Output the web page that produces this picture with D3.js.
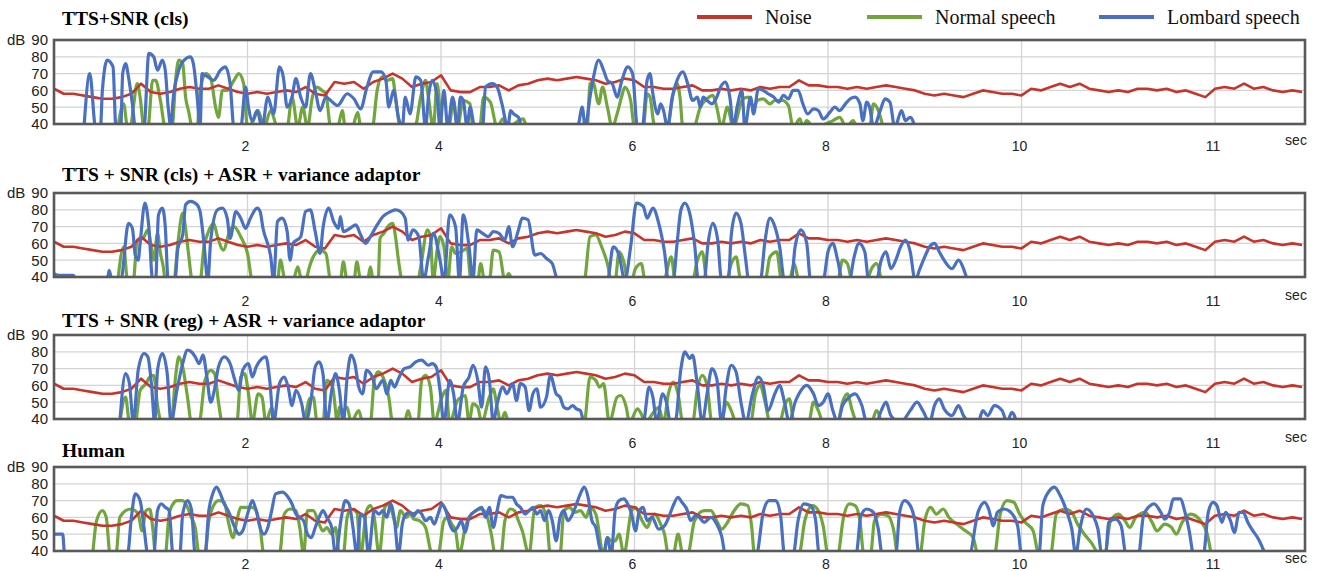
<!DOCTYPE html>
<html>
<head>
<meta charset="utf-8">
<script src="https://cdn.jsdelivr.net/npm/d3@7"></script>
<style>
body { margin: 0; background: #fff; }
</style>
</head>
<body>
<svg id="chart" width="1317" height="571"></svg>
<script>
// ---- data ----
var seriesNames = ["Noise", "Normal speech", "Lombard speech"];
var panelTitles = ["TTS+SNR (cls)", "TTS + SNR (cls) + ASR + variance adaptor",
    "TTS + SNR (reg) + ASR + variance adaptor", "Human"];
var xTickValues = [2, 4, 6, 8, 10, 12];
var xTickLabels = ["2", "4", "6", "8", "10", "11"];
var yTickValues = [40, 50, 60, 70, 80, 90];

// noise level (dB), one value every 0.1 sec
var noiseStep = 0.1;
var noiseValues = [61,58,58,57,56,55,55,56,58,64, 59,58,59,61,62,61,61,63,61,59,
    58,59,58,59,60,59,62,58,57,65, 64,65,61,65,67,70,67,62,64,65,
    69,60,59,59,62,62,63,60,63,64, 66,67,66,67,68,67,66,64,65,67,
    66,62,62,61,61,62,63,60,60,61, 60,61,60,62,61,62,62,66,63,63,
    62,62,61,62,61,62,63,62,61,60, 58,57,58,57,56,58,60,59,58,58,
    57,61,60,62,64,62,64,61,60,59, 60,59,61,61,60,61,59,60,58,56,
    61,62,61,64,61,62,60,59,60,59];

// speech levels: [sec, dB]; values under 40 fall below the frame
var normal1 = [[0.66,38],[0.72,52],[0.76,38],[0.79,38],[0.82,50],[0.86,64],[0.89,56],[0.93,38],[0.97,38],[1.02,66],[1.05,66],[1.10,54],[1.15,38],[1.22,38],[1.26,68],[1.29,78],[1.33,76],[1.36,56],[1.39,48],[1.43,38],[1.48,38],[1.51,60],[1.57,70],[1.62,67],[1.67,50],[1.70,44],[1.74,60],[1.79,60],[1.86,66],[1.91,70],[1.96,64],[2.00,38],[2.06,42],[2.11,48],[2.17,38],[2.24,48],[2.31,38],[2.41,38],[2.46,56],[2.52,38],[2.57,50],[2.62,38],[2.67,56],[2.72,62],[2.77,60],[2.81,58],[2.86,38],[2.93,38],[2.98,48],[3.01,38],[3.08,38],[3.14,47],[3.17,38],[3.29,38],[3.34,60],[3.39,68],[3.44,66],[3.50,67],[3.53,56],[3.58,38],[3.73,38],[3.79,56],[3.84,66],[3.87,56],[3.92,38],[3.96,64],[4.01,38],[4.08,38],[4.13,54],[4.17,38],[4.23,54],[4.30,52],[4.33,38],[4.40,38],[4.44,56],[4.51,53],[4.58,38],[4.64,43],[4.68,38],[4.85,43],[4.89,38],
    [5.51,38],[5.54,64],[5.57,65],[5.63,52],[5.67,62],[5.72,50],[5.77,38],[5.82,46],[5.87,57],[5.90,62],[5.96,54],[6.00,38],[6.09,38],[6.13,58],[6.16,56],[6.21,38],[6.34,38],[6.40,58],[6.44,64],[6.47,56],[6.50,38],[6.61,38],[6.68,50],[6.75,55],[6.81,57],[6.85,50],[6.90,38],[6.96,50],[7.02,38],[7.12,55],[7.18,56],[7.23,50],[7.27,54],[7.33,55],[7.40,52],[7.45,54],[7.53,54],[7.59,51],[7.64,38],[7.71,43],[7.74,38],[7.78,42],[7.85,38],[8.05,42],[8.12,44],[8.19,38],[8.26,42],[8.30,38],[8.43,38],[8.47,52],[8.52,48],[8.57,38]];
var lombard1 = [[0.31,38],[0.37,70],[0.43,38],[0.48,38],[0.50,60],[0.55,78],[0.61,74],[0.64,38],[0.69,38],[0.71,70],[0.74,76],[0.77,68],[0.81,52],[0.84,38],[0.93,38],[0.98,82],[1.03,80],[1.07,72],[1.12,78],[1.15,72],[1.18,50],[1.21,38],[1.23,54],[1.28,70],[1.33,77],[1.41,80],[1.44,76],[1.48,56],[1.51,38],[1.53,70],[1.59,68],[1.65,66],[1.72,72],[1.77,74],[1.82,64],[1.86,38],[1.93,38],[1.98,62],[2.01,50],[2.05,42],[2.10,48],[2.15,38],[2.21,56],[2.27,46],[2.33,74],[2.37,68],[2.41,50],[2.46,56],[2.50,67],[2.55,56],[2.60,50],[2.65,70],[2.70,60],[2.75,48],[2.81,56],[2.86,54],[2.93,51],[3.03,58],[3.10,55],[3.17,49],[3.23,61],[3.30,71],[3.38,71],[3.43,66],[3.46,50],[3.51,60],[3.56,44],[3.60,38],[3.63,56],[3.68,46],[3.74,68],[3.79,66],[3.84,38],[3.87,56],[3.91,66],[3.96,56],[3.99,38],[4.03,60],[4.07,38],[4.12,56],[4.17,38],[4.20,56],[4.23,54],[4.27,38],[4.30,50],[4.35,38],[4.43,38],[4.46,62],[4.53,64],[4.58,62],[4.63,52],[4.69,38],[4.72,48],[4.75,46],[4.80,44],[4.84,38],
    [5.41,38],[5.46,50],[5.49,38],[5.54,56],[5.57,66],[5.63,78],[5.68,72],[5.72,66],[5.77,64],[5.82,56],[5.87,66],[5.93,74],[5.98,70],[6.03,38],[6.08,38],[6.13,66],[6.16,70],[6.19,58],[6.24,46],[6.27,52],[6.30,48],[6.34,38],[6.39,56],[6.44,66],[6.50,71],[6.55,64],[6.60,54],[6.65,56],[6.68,50],[6.71,56],[6.75,54],[6.80,52],[6.85,56],[6.89,62],[6.94,65],[6.99,54],[7.02,38],[7.06,50],[7.11,60],[7.14,38],[7.20,56],[7.23,46],[7.28,61],[7.33,60],[7.38,58],[7.44,56],[7.49,53],[7.54,57],[7.59,55],[7.64,60],[7.69,60],[7.74,52],[7.79,46],[7.85,49],[7.90,48],[7.95,43],[8.02,47],[8.07,50],[8.12,48],[8.18,52],[8.23,55],[8.28,56],[8.33,52],[8.36,42],[8.40,53],[8.43,50],[8.47,38],[8.54,48],[8.59,55],[8.64,53],[8.69,38],[8.76,48],[8.80,42],[8.85,44],[8.90,38]];

var normal2 = [[0.66,38],[0.72,58],[0.76,38],[0.82,38],[0.86,62],[0.92,63],[0.97,68],[1.00,60],[1.03,50],[1.07,66],[1.10,54],[1.13,46],[1.15,38],[1.24,38],[1.28,60],[1.33,78],[1.36,69],[1.39,54],[1.43,38],[1.51,38],[1.55,58],[1.59,66],[1.62,70],[1.65,72],[1.69,64],[1.75,56],[1.82,68],[1.86,70],[1.93,64],[2.00,54],[2.05,38],[2.31,38],[2.34,50],[2.39,38],[2.47,38],[2.52,46],[2.56,38],[2.60,38],[2.64,46],[2.68,52],[2.75,56],[2.81,54],[2.86,38],[2.96,38],[2.99,49],[3.03,38],[3.10,38],[3.13,49],[3.17,38],[3.24,38],[3.27,46],[3.30,38],[3.35,38],[3.37,63],[3.41,66],[3.45,70],[3.50,72],[3.53,64],[3.56,50],[3.60,38],[3.76,38],[3.79,46],[3.86,68],[3.89,64],[3.92,38],[3.96,56],[3.99,64],[4.03,58],[4.07,38],[4.11,58],[4.15,54],[4.21,55],[4.27,57],[4.31,38],[4.38,38],[4.41,48],[4.45,38],[4.50,38],[4.54,56],[4.60,55],[4.66,38],[4.70,42],[4.74,38],
    [5.48,38],[5.54,64],[5.60,65],[5.66,58],[5.72,48],[5.76,38],[5.80,38],[5.84,55],[5.89,49],[5.93,38],[5.97,38],[6.01,45],[6.07,48],[6.11,38],[6.30,38],[6.38,52],[6.42,38],[6.60,38],[6.65,50],[6.70,55],[6.75,38],[6.95,38],[7.00,48],[7.05,52],[7.10,38],[7.35,38],[7.40,52],[7.47,55],[7.52,38],[7.60,38],[7.65,48],[7.70,38],[8.10,38],[8.15,50],[8.20,48],[8.25,38],[8.40,38],[8.45,45],[8.50,48],[8.55,38]];
var lombard2 = [[0.00,42],[0.05,41],[0.20,41],[0.23,38],[0.55,38],[0.57,44],[0.60,38],[0.69,38],[0.77,72],[0.81,69],[0.84,53],[0.87,50],[0.89,60],[0.94,84],[0.98,70],[1.02,38],[1.05,38],[1.08,77],[1.12,81],[1.15,70],[1.18,38],[1.25,38],[1.28,57],[1.33,65],[1.36,83],[1.41,85],[1.48,83],[1.51,79],[1.55,60],[1.59,38],[1.62,62],[1.69,80],[1.74,81],[1.79,75],[1.82,63],[1.88,79],[1.93,75],[1.98,69],[2.03,75],[2.10,81],[2.13,79],[2.16,69],[2.24,52],[2.27,38],[2.31,73],[2.36,75],[2.41,67],[2.44,50],[2.47,60],[2.55,64],[2.60,79],[2.65,80],[2.70,67],[2.75,54],[2.78,69],[2.84,81],[2.89,73],[2.94,69],[2.96,76],[2.99,67],[3.06,69],[3.12,71],[3.17,65],[3.22,60],[3.27,64],[3.34,71],[3.40,76],[3.48,79],[3.53,80],[3.58,79],[3.63,75],[3.66,62],[3.71,68],[3.77,64],[3.82,38],[3.87,52],[3.92,66],[3.99,50],[4.03,38],[4.09,77],[4.15,70],[4.19,38],[4.23,77],[4.29,58],[4.33,38],[4.37,68],[4.43,66],[4.49,64],[4.54,67],[4.60,66],[4.66,62],[4.70,70],[4.74,58],[4.80,68],[4.84,75],[4.90,74],[4.97,53],[5.03,54],[5.09,51],[5.15,48],[5.21,38],
    [5.72,38],[5.78,58],[5.84,53],[5.90,38],[5.96,58],[6.02,84],[6.09,82],[6.13,75],[6.19,81],[6.25,72],[6.31,55],[6.35,38],[6.40,38],[6.44,60],[6.48,80],[6.52,84],[6.57,78],[6.62,60],[6.66,38],[6.72,38],[6.76,60],[6.81,72],[6.86,62],[6.90,38],[6.97,38],[7.00,65],[7.05,78],[7.10,72],[7.15,50],[7.18,38],[7.30,38],[7.35,62],[7.40,75],[7.45,70],[7.50,58],[7.55,38],[7.62,38],[7.66,58],[7.72,68],[7.78,60],[7.82,38],[7.95,38],[8.00,55],[8.05,60],[8.10,50],[8.15,38],[8.22,38],[8.27,52],[8.32,60],[8.38,55],[8.42,38],[8.50,38],[8.55,50],[8.60,55],[8.65,45],[8.70,50],[8.75,58],[8.80,62],[8.85,55],[8.90,38],[8.95,45],[9.00,52],[9.05,58],[9.10,60],[9.15,55],[9.20,50],[9.28,45],[9.35,50],[9.40,45],[9.44,38]];

var normal3 = [[0.68,38],[0.74,53],[0.78,38],[0.84,38],[0.89,57],[0.95,61],[0.99,65],[1.03,66],[1.07,48],[1.11,38],[1.21,38],[1.26,67],[1.29,77],[1.33,71],[1.38,53],[1.42,38],[1.50,38],[1.56,63],[1.62,69],[1.66,67],[1.70,50],[1.74,38],[1.89,38],[1.93,65],[1.97,67],[2.01,55],[2.05,38],[2.11,55],[2.15,53],[2.19,38],[2.25,47],[2.29,38],[2.58,38],[2.64,52],[2.68,53],[2.72,38],[2.78,38],[2.82,63],[2.88,59],[2.93,38],[2.95,47],[2.99,45],[3.03,47],[3.07,38],[3.15,45],[3.19,38],[3.27,38],[3.31,63],[3.35,68],[3.40,65],[3.46,53],[3.50,38],[3.62,38],[3.66,45],[3.70,38],[3.76,38],[3.80,63],[3.84,66],[3.89,59],[3.93,38],[4.01,53],[4.05,57],[4.09,38],[4.17,51],[4.21,53],[4.25,54],[4.29,38],[4.33,49],[4.38,47],[4.42,38],[4.50,53],[4.54,58],[4.58,47],[4.62,38],[4.66,44],[4.70,38],
    [5.48,38],[5.54,65],[5.60,63],[5.64,59],[5.68,61],[5.74,38],[5.82,53],[5.86,54],[5.91,48],[5.95,38],[6.03,46],[6.07,43],[6.11,38],[6.21,45],[6.25,47],[6.30,38],[6.35,55],[6.40,62],[6.45,55],[6.50,38],[6.60,38],[6.65,58],[6.70,66],[6.75,60],[6.80,38],[6.90,38],[6.95,50],[7.00,45],[7.05,38],[7.20,38],[7.25,55],[7.30,60],[7.35,50],[7.40,38],[7.50,38],[7.55,48],[7.60,52],[7.65,38],[7.80,38],[7.85,50],[7.90,45],[7.95,38],[8.10,38],[8.15,50],[8.20,55],[8.25,45],[8.30,38],[8.45,38],[8.50,45],[8.55,38]];
var lombard3 = [[0.68,38],[0.74,67],[0.78,61],[0.82,38],[0.87,69],[0.93,79],[0.97,77],[1.01,59],[1.04,38],[1.07,69],[1.12,79],[1.17,67],[1.21,38],[1.27,57],[1.33,73],[1.38,81],[1.42,80],[1.46,77],[1.50,73],[1.54,78],[1.58,65],[1.62,50],[1.66,58],[1.70,71],[1.76,77],[1.82,73],[1.87,63],[1.91,57],[1.95,69],[2.01,73],[2.05,65],[2.09,71],[2.15,76],[2.19,77],[2.23,63],[2.27,38],[2.33,61],[2.38,65],[2.42,59],[2.46,48],[2.50,57],[2.56,49],[2.60,38],[2.66,53],[2.70,71],[2.74,74],[2.78,67],[2.82,38],[2.87,57],[2.91,67],[2.95,57],[2.99,38],[3.03,65],[3.07,78],[3.11,73],[3.15,59],[3.19,55],[3.23,69],[3.29,65],[3.33,58],[3.40,63],[3.44,55],[3.48,63],[3.52,59],[3.56,64],[3.62,70],[3.68,71],[3.74,74],[3.80,75],[3.87,72],[3.91,73],[3.95,71],[3.99,57],[4.03,38],[4.09,63],[4.13,55],[4.17,38],[4.23,59],[4.29,65],[4.33,72],[4.38,63],[4.42,47],[4.46,71],[4.50,63],[4.54,38],[4.58,49],[4.64,59],[4.68,55],[4.74,61],[4.78,51],[4.82,61],[4.87,59],[4.91,45],[4.95,55],[4.99,58],[5.03,47],[5.09,53],[5.13,66],[5.19,55],[5.23,53],[5.27,47],[5.31,46],[5.36,48],[5.40,46],[5.44,45],[5.48,38],
    [6.09,38],[6.15,59],[6.19,53],[6.23,38],[6.29,55],[6.33,50],[6.37,38],[6.42,38],[6.48,70],[6.52,80],[6.57,76],[6.60,78],[6.65,60],[6.70,38],[6.75,55],[6.80,70],[6.85,64],[6.90,38],[6.95,60],[7.00,72],[7.05,68],[7.10,50],[7.15,38],[7.22,55],[7.28,65],[7.33,60],[7.38,45],[7.45,55],[7.50,60],[7.55,50],[7.60,38],[7.66,50],[7.70,55],[7.78,60],[7.85,55],[7.90,48],[7.95,50],[8.00,55],[8.05,45],[8.10,38],[8.15,48],[8.20,52],[8.28,55],[8.35,48],[8.40,38],[8.50,38],[8.55,45],[8.60,50],[8.65,42],[8.75,38],[8.85,45],[8.92,50],[8.98,45],[9.05,38],[9.10,48],[9.15,52],[9.20,46],[9.28,42],[9.35,48],[9.40,42],[9.48,38],[9.55,38],[9.60,45],[9.65,42],[9.72,48],[9.80,45],[9.85,38],[9.90,44],[9.95,38]];

var normal4 = [[0.40,38],[0.44,58],[0.50,64],[0.54,60],[0.58,38],[0.64,38],[0.68,60],[0.74,64],[0.80,65],[0.87,62],[0.91,52],[0.95,64],[0.99,65],[1.02,54],[1.05,38],[1.15,38],[1.19,62],[1.23,68],[1.27,70],[1.33,70],[1.38,66],[1.42,60],[1.46,54],[1.50,38],[1.56,38],[1.60,58],[1.64,66],[1.70,70],[1.76,69],[1.80,58],[1.85,48],[1.89,58],[1.93,66],[1.99,66],[2.05,66],[2.09,64],[2.13,54],[2.17,38],[2.33,38],[2.38,62],[2.44,65],[2.50,64],[2.54,54],[2.58,38],[2.62,64],[2.68,64],[2.74,56],[2.78,52],[2.82,54],[2.87,50],[2.91,54],[2.95,38],[2.99,38],[3.03,60],[3.07,65],[3.13,63],[3.17,38],[3.23,64],[3.27,67],[3.31,60],[3.36,38],[3.42,66],[3.46,68],[3.50,62],[3.54,54],[3.58,64],[3.64,60],[3.68,62],[3.72,59],[3.78,58],[3.84,54],[3.91,38],[3.97,38],[4.03,58],[4.07,60],[4.11,56],[4.15,52],[4.19,38],[4.25,54],[4.29,60],[4.36,64],[4.42,65],[4.48,60],[4.52,50],[4.56,38],[4.62,38],[4.66,58],[4.72,65],[4.76,64],[4.80,58],[4.84,52],[4.91,38],[4.97,66],[5.03,67],[5.09,60],[5.13,38],[5.23,38],[5.27,64],[5.33,66],[5.38,63],[5.44,64],[5.50,60],[5.54,66],[5.60,62],[5.68,38],[5.72,48],[5.76,46],[5.80,46],[5.84,50],[5.89,38],[5.97,64],[6.01,66],[6.07,59],[6.13,54],[6.17,59],[6.21,62],[6.27,56],[6.31,50],[6.35,38],
    [6.40,38],[6.45,50],[6.50,38],[6.55,38],[6.62,58],[6.72,64],[6.79,64],[6.85,58],[6.90,53],[6.95,56],[7.03,64],[7.10,68],[7.17,67],[7.21,55],[7.24,38],[7.70,38],[7.76,58],[7.84,67],[7.90,64],[7.95,55],[8.00,38],[8.10,38],[8.16,60],[8.22,68],[8.28,67],[8.33,58],[8.37,38],[8.44,38],[8.48,58],[8.55,62],[8.62,61],[8.68,52],[8.72,38],[8.95,38],[9.00,58],[9.06,66],[9.12,62],[9.19,65],[9.25,60],[9.33,56],[9.42,52],[9.50,48],[9.55,38],[9.72,38],[9.78,62],[9.85,70],[9.92,69],[9.98,62],[10.04,57],[10.12,52],[10.18,38],[10.30,38],[10.36,62],[10.45,65],[10.52,63],[10.58,56],[10.65,50],[10.72,45],[10.81,38],[10.86,38],[10.92,58],[11.00,62],[11.07,58],[11.12,54],[11.18,60],[11.28,63],[11.35,57],[11.40,52],[11.48,56],[11.55,54],[11.60,50],[11.66,57],[11.75,62],[11.85,58],[11.92,50],[11.96,38]];
var lombard4 = [[0.00,50],[0.06,50],[0.09,50],[0.11,38],[0.76,38],[0.80,60],[0.84,74],[0.89,70],[0.93,54],[0.97,38],[1.03,38],[1.07,64],[1.11,68],[1.15,66],[1.19,64],[1.23,38],[1.30,38],[1.33,62],[1.38,70],[1.42,65],[1.46,38],[1.56,38],[1.60,64],[1.64,74],[1.68,78],[1.72,74],[1.76,68],[1.80,64],[1.87,54],[1.91,50],[1.95,52],[2.01,64],[2.05,70],[2.09,64],[2.13,54],[2.17,50],[2.21,54],[2.25,64],[2.29,74],[2.36,75],[2.42,72],[2.46,68],[2.50,62],[2.54,60],[2.58,58],[2.62,50],[2.66,48],[2.70,54],[2.74,60],[2.78,64],[2.82,60],[2.87,54],[2.91,38],[2.97,60],[3.01,70],[3.05,68],[3.09,54],[3.13,38],[3.17,62],[3.21,60],[3.25,38],[3.31,64],[3.36,62],[3.40,64],[3.44,60],[3.48,68],[3.52,58],[3.56,38],[3.60,56],[3.64,62],[3.68,63],[3.72,61],[3.76,64],[3.80,62],[3.84,58],[3.89,60],[3.93,56],[3.97,62],[4.01,68],[4.05,64],[4.09,56],[4.13,52],[4.17,54],[4.21,58],[4.25,51],[4.29,60],[4.36,64],[4.42,66],[4.46,60],[4.50,66],[4.54,54],[4.58,64],[4.62,73],[4.68,72],[4.74,72],[4.78,68],[4.82,66],[4.87,62],[4.91,64],[4.95,66],[4.99,62],[5.03,64],[5.07,58],[5.11,64],[5.15,58],[5.19,46],[5.23,60],[5.27,64],[5.31,58],[5.36,62],[5.40,68],[5.44,74],[5.48,78],[5.52,72],[5.56,58],[5.60,54],[5.64,42],[5.68,38],[5.72,48],[5.76,38],[5.80,64],[5.84,70],[5.89,71],[5.93,68],[5.97,62],[6.01,52],[6.05,64],[6.09,66],[6.13,58],[6.18,60],[6.25,53],[6.31,55],[6.36,61],[6.40,67],[6.45,72],[6.49,69],[6.54,65],[6.58,58],[6.63,61],[6.67,60],[6.72,57],[6.79,60],[6.85,56],[6.90,49],[6.94,38],
    [7.26,38],[7.33,63],[7.39,70],[7.46,70],[7.51,61],[7.55,38],[7.64,38],[7.69,58],[7.75,68],[7.82,67],[7.87,59],[7.91,38],[8.29,38],[8.34,61],[8.40,65],[8.47,63],[8.52,53],[8.56,38],[8.70,38],[8.74,63],[8.79,70],[8.85,67],[8.90,57],[8.94,38],[9.46,38],[9.55,63],[9.62,69],[9.66,65],[9.71,55],[9.75,63],[9.82,65],[9.89,63],[9.96,55],[10.00,38],[10.18,38],[10.22,67],[10.29,76],[10.34,78],[10.40,73],[10.47,63],[10.52,53],[10.56,38],[10.61,55],[10.67,65],[10.74,61],[10.79,53],[10.83,38],[10.87,38],[10.90,57],[10.97,59],[11.03,55],[11.08,38],[11.21,38],[11.26,61],[11.33,67],[11.37,68],[11.44,63],[11.48,59],[11.53,63],[11.57,71],[11.64,71],[11.69,63],[11.73,53],[11.78,38],[11.88,38],[11.93,63],[11.98,69],[12.02,67],[12.07,57],[12.11,63],[12.16,58],[12.20,51],[12.25,63],[12.29,63],[12.34,57],[12.38,53],[12.45,47],[12.52,38]];

var normalSeries = [normal1, normal2, normal3, normal4];
var lombardSeries = [lombard1, lombard2, lombard3, lombard4];

// ---- layout ----
var colors = ["#c8342a", "#70a63c", "#4a70c2"];
var svg = d3.select("#chart"),
    plotLeft = 54, plotRight = 1305,
    width = plotRight - plotLeft,
    height = 84,
    panelTops = [40, 193, 335, 467],
    titleBase = [25, 181, 327, 457],
    tickDy = [22, 24, 24, 13];

var x = d3.scaleLinear().domain([0, 12.93]).range([0, width]);
var y = d3.scaleLinear().domain([40, 90]).range([height, 0]);

var noise = noiseValues.map(function (v, i) { return [i * noiseStep, v]; });

var line = d3.line()
    .x(function (d) { return x(d[0]); })
    .y(function (d) { return y(d[1]); });
var speechLine = d3.line()
    .curve(d3.curveMonotoneX)
    .x(function (d) { return x(d[0]); })
    .y(function (d) { return y(d[1]); });

function draw_panel(k) {
    var g = svg.append("g")
        .attr("transform", "translate(" + plotLeft + "," + panelTops[k] + ")");

    g.append("clipPath").attr("id", "clip" + k)
        .append("rect").attr("width", width).attr("height", height);

    // grid
    g.append("g").selectAll("line")
        .data(yTickValues.slice(1, -1))
        .enter().append("line")
        .attr("x1", 0).attr("x2", width)
        .attr("y1", function (d) { return y(d); })
        .attr("y2", function (d) { return y(d); })
        .attr("stroke", "#d4d4d4").attr("stroke-width", 1.3);
    g.append("g").selectAll("line")
        .data(xTickValues)
        .enter().append("line")
        .attr("x1", function (d) { return x(d); })
        .attr("x2", function (d) { return x(d); })
        .attr("y1", 0).attr("y2", height)
        .attr("stroke", "#d4d4d4").attr("stroke-width", 1.3);

    var lines = g.append("g").attr("clip-path", "url(#clip" + k + ")")
        .attr("fill", "none").attr("stroke-linejoin", "round");
    lines.append("path").datum(normalSeries[k])
        .attr("d", speechLine)
        .attr("stroke", colors[1]).attr("stroke-width", 3.2);
    lines.append("path").datum(noise)
        .attr("d", line)
        .attr("stroke", colors[0]).attr("stroke-width", 2.6);
    lines.append("path").datum(lombardSeries[k])
        .attr("d", speechLine)
        .attr("stroke", colors[2]).attr("stroke-width", 3.2);

    // frame
    g.append("rect")
        .attr("width", width).attr("height", height)
        .attr("fill", "none").attr("stroke", "#595959").attr("stroke-width", 2.6);

    // y labels
    g.append("g")
        .attr("font-family", "Liberation Sans, Arial, sans-serif")
        .attr("font-size", 15).attr("fill", "#222")
        .attr("text-anchor", "end")
        .selectAll("text")
        .data(yTickValues)
        .enter().append("text")
        .attr("x", -6)
        .attr("y", function (d) { return y(d); })
        .attr("dy", "0.36em")
        .text(function (d) { return d; });
    g.append("text")
        .attr("font-family", "Liberation Sans, Arial, sans-serif")
        .attr("font-size", 15).attr("fill", "#222")
        .attr("x", -47).attr("y", y(90)).attr("dy", "0.36em")
        .text("dB");

    // x labels
    g.append("g")
        .attr("font-family", "Liberation Sans, Arial, sans-serif")
        .attr("font-size", 14).attr("fill", "#222")
        .attr("text-anchor", "middle")
        .selectAll("text")
        .data(xTickValues)
        .enter().append("text")
        .attr("x", function (d) { return x(d) - 2; })
        .attr("y", height + tickDy[k])
        .attr("dy", "0.36em")
        .text(function (d, i) { return xTickLabels[i]; });
    g.append("text")
        .attr("font-family", "Liberation Sans, Arial, sans-serif")
        .attr("font-size", 14).attr("fill", "#222")
        .attr("text-anchor", "middle")
        .attr("x", width - 9).attr("y", height + tickDy[k] - 6)
        .attr("dy", "0.36em")
        .text("sec");

    svg.append("text")
        .attr("font-family", "Liberation Serif, Times New Roman, serif")
        .attr("font-weight", "bold").attr("font-size", 19.5)
        .attr("x", 62).attr("y", titleBase[k])
        .text(panelTitles[k]);
}

for (var k = 0; k < panelTitles.length; k++) draw_panel(k);

// legend
var legendX = [697, 867, 1099];
var legend = svg.append("g")
    .attr("font-family", "Liberation Serif, Times New Roman, serif")
    .attr("font-size", 20)
    .selectAll("g")
    .data(seriesNames)
    .enter().append("g")
    .attr("transform", function (d, i) { return "translate(" + legendX[i] + ",17)"; });
legend.append("line")
    .attr("x1", 0).attr("x2", 55)
    .attr("stroke", function (d, i) { return colors[i]; })
    .attr("stroke-width", 4);
legend.append("text")
    .attr("x", 68).attr("dy", "0.33em")
    .attr("fill", "#111")
    .text(function (d) { return d; });
</script>
</body>
</html>
